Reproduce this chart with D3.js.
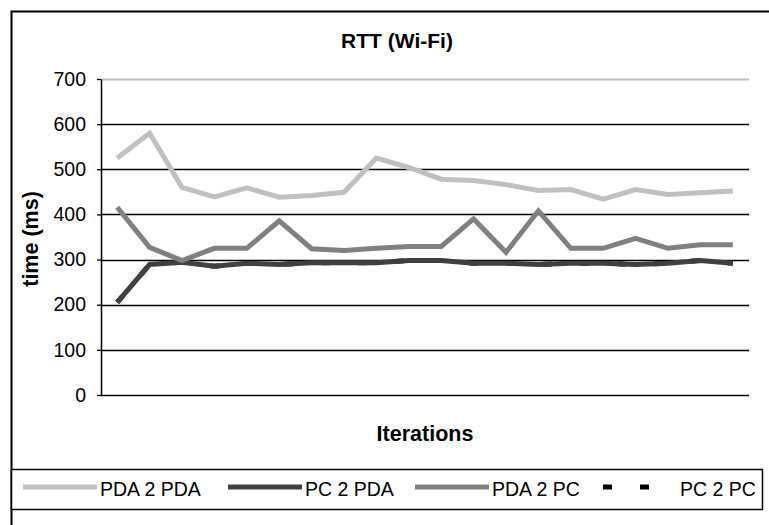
<!DOCTYPE html>
<html>
<head>
<meta charset="utf-8">
<script src="https://cdn.jsdelivr.net/npm/d3@7"></script>
<style>
  html, body { margin: 0; padding: 0; background: #fff; }
  svg { display: block; font-family: "Liberation Sans", Arial, sans-serif; }
</style>
</head>
<body>
<svg id="chart" width="769" height="525"></svg>
<script>
// ---- data ----
const iterations = d3.range(1, 21).map(String); // 20 iterations (no labels shown)
const seriesNames = ["PDA 2 PDA", "PC 2 PDA", "PDA 2 PC", "PC 2 PC"];
const pda2pda = [525, 580, 460, 439, 459, 438, 442, 449, 525, 504, 478, 475, 466, 453, 455, 434, 455, 444, 448, 452];
const pc2pda  = [205, 289, 294, 285, 292, 289, 293, 293, 293, 298, 298, 292, 292, 289, 292, 292, 289, 292, 298, 292];
const pda2pc  = [416, 327, 298, 325, 325, 386, 324, 320, 325, 329, 329, 390, 316, 408, 325, 325, 347, 325, 333, 333];
const pc2pc   = [205, 289, 294, 285, 292, 289, 293, 293, 293, 298, 298, 292, 292, 289, 292, 292, 289, 292, 298, 292];
const yTicks = [0, 100, 200, 300, 400, 500, 600, 700];

const series = [
  { name: seriesNames[3], values: pc2pc,   color: "#000000", dash: "9,28" },
  { name: seriesNames[0], values: pda2pda, color: "#c0c0c0", dash: null },
  { name: seriesNames[1], values: pc2pda,  color: "#404040", dash: null },
  { name: seriesNames[2], values: pda2pc,  color: "#808080", dash: null }
];

const svg = d3.select("#chart");
svg.append("rect").attr("width", 769).attr("height", 525).attr("fill", "#fff");

// outer chart border (extends beyond the window on right/bottom)
svg.append("rect")
  .attr("x", 11.5).attr("y", 11.5).attr("width", 800).attr("height", 560)
  .attr("fill", "none").attr("stroke", "#000").attr("stroke-width", 2);

// title
svg.append("text").attr("x", 397).attr("y", 48)
  .attr("text-anchor", "middle").attr("font-weight", "bold").attr("font-size", 21)
  .text("RTT (Wi-Fi)");

const pLeft = 101, pRight = 749, pTop = 79, pBottom = 395;
const x = d3.scalePoint().domain(iterations).range([pLeft, pRight]).padding(0.5);
const y = d3.scaleLinear().domain([0, 700]).range([pBottom, pTop]);

// gridlines
svg.append("g").selectAll("line")
  .data(yTicks.filter(t => t > 0))
  .join("line")
  .attr("x1", pLeft).attr("x2", pRight)
  .attr("y1", d => Math.round(y(d)) + 0.5).attr("y2", d => Math.round(y(d)) + 0.5)
  .attr("stroke", d => d === 700 ? "#c0c0c0" : "#000")
  .attr("stroke-width", d => d === 700 ? 2 : 1.3);

// y axis
const yAxis = svg.append("g").attr("transform", `translate(${pLeft},0)`)
  .call(d3.axisLeft(y).tickValues(yTicks).tickSize(4).tickPadding(11).tickSizeOuter(0));
yAxis.select(".domain").attr("stroke", "#000").attr("stroke-width", 1.5);
yAxis.selectAll(".tick line").attr("stroke", "#000").attr("stroke-width", 1.3);
yAxis.selectAll(".tick text").attr("font-size", 19.5).attr("fill", "#000")
  .attr("font-family", "Liberation Sans, Arial, sans-serif");

// x axis (no labels)
const xAxis = svg.append("g").attr("transform", `translate(0,${pBottom})`)
  .call(d3.axisBottom(x).tickSize(0).tickFormat(() => "").tickSizeOuter(0));
xAxis.select(".domain").attr("stroke", "#000").attr("stroke-width", 1.5)
  .attr("d", `M${pLeft},0.5H${pRight}`);

// axis titles
svg.append("text")
  .attr("transform", `translate(38,${(pTop + pBottom) / 2 + 2}) rotate(-90)`)
  .attr("text-anchor", "middle").attr("font-weight", "bold").attr("font-size", 21.5)
  .text("time (ms)");
svg.append("text").attr("x", (pLeft + pRight) / 2).attr("y", 441)
  .attr("text-anchor", "middle").attr("font-weight", "bold").attr("font-size", 21.5)
  .text("Iterations");

// lines
const line = d3.line().x((d, i) => x(iterations[i])).y(d => y(d));
svg.append("g").selectAll("path")
  .data(series)
  .join("path")
  .attr("d", s => line(s.values))
  .attr("fill", "none")
  .attr("stroke", s => s.color)
  .attr("stroke-width", 5)
  .attr("stroke-linejoin", "miter")
  .attr("stroke-dasharray", s => s.dash);

// legend
svg.append("rect").attr("x", 11.5).attr("y", 469.5).attr("width", 751).attr("height", 40)
  .attr("fill", "#fff").attr("stroke", "#000").attr("stroke-width", 1.5);
const legendOrder = [series[1], series[2], series[3], series[0]];
const legendX = [23, 228, 415, 603];
const lg = svg.append("g").selectAll("g").data(legendOrder).join("g")
  .attr("transform", (d, i) => `translate(${legendX[i]},487)`);
lg.append("line").attr("x1", 0).attr("x2", 74).attr("y1", 0).attr("y2", 0)
  .attr("stroke", d => d.color).attr("stroke-width", 5)
  .attr("stroke-dasharray", d => d.dash);
lg.append("text").attr("x", 77).attr("y", 8.5).attr("font-size", 19.5)
  .text(d => d.name);
</script>
</body>
</html>
